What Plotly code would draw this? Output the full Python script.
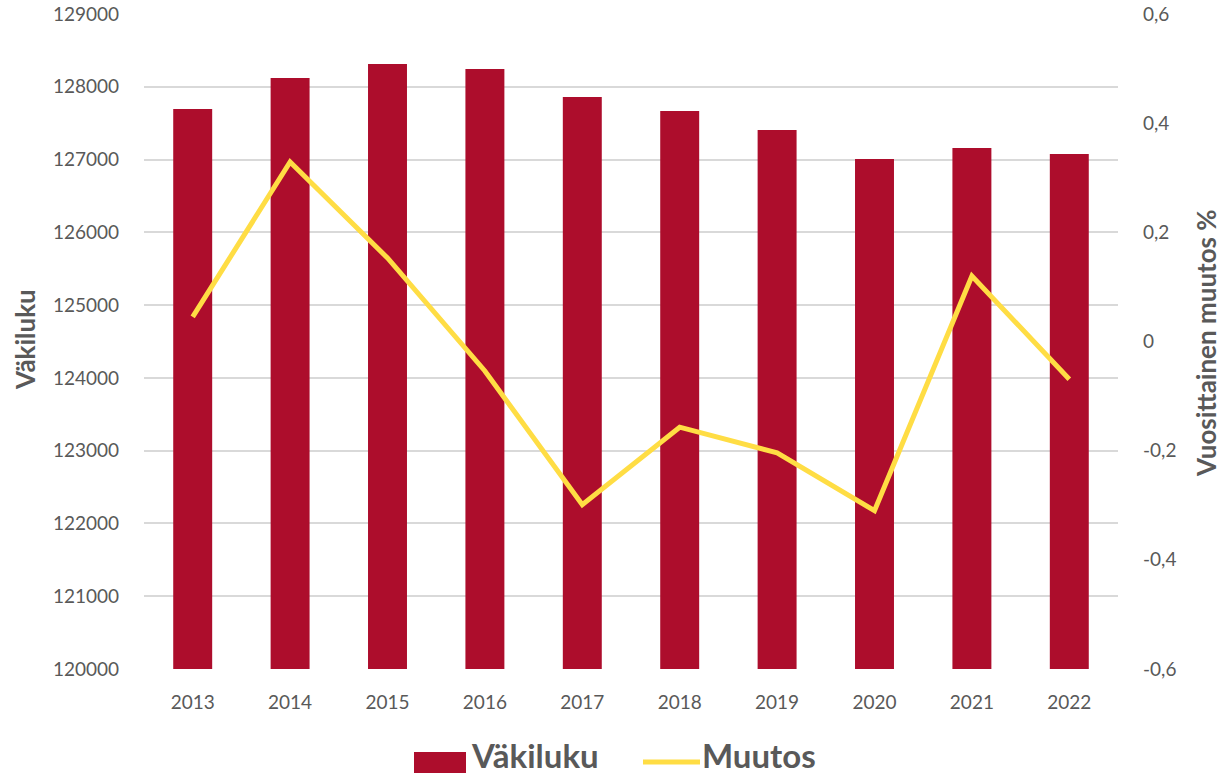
import plotly.graph_objects as go

years = ["2013", "2014", "2015", "2016", "2017", "2018", "2019", "2020", "2021", "2022"]
vakiluku = [127695, 128121, 128313, 128245, 127860, 127668, 127407, 127008, 127159, 127077]
muutos = [0.045, 0.329, 0.153, -0.054, -0.299, -0.157, -0.204, -0.310, 0.120, -0.069]

left_ticks = [120000, 121000, 122000, 123000, 124000, 125000, 126000, 127000, 128000, 129000]
left_labels = [str(v) for v in left_ticks]
right_ticks = [-0.6, -0.4, -0.2, 0, 0.2, 0.4, 0.6]
right_labels = ["-0,6", "-0,4", "-0,2", "0", "0,2", "0,4", "0,6"]

FONT = "Lato"
GREY = "#595959"
RED = "#AD0D2C"
YELLOW = "#FFDD44"

W, H = 1221, 777
L, R, T, B = 144, 103, 14, 108
PW, PH = W - L - R, H - T - B


def px_x(px):
    return (px - L) / PW


def px_y(py):
    return (H - B - py) / PH


fig = go.Figure()
fig.add_trace(go.Bar(
    x=years, y=vakiluku, name="Väkiluku",
    marker=dict(color=RED, line=dict(width=0)),
    width=0.4, showlegend=False,
))
fig.add_trace(go.Scatter(
    x=years, y=muutos, name="Muutos", yaxis="y2", mode="lines",
    line=dict(color=YELLOW, width=5), showlegend=False,
))

# Legend (drawn)
shapes = [
    dict(type="rect", xref="paper", yref="paper",
         x0=px_x(414), x1=px_x(466), y0=px_y(773), y1=px_y(752),
         fillcolor=RED, line=dict(width=0)),
    dict(type="line", xref="paper", yref="paper",
         x0=px_x(643), x1=px_x(700), y0=px_y(762), y1=px_y(762),
         line=dict(color=YELLOW, width=5)),
]
annotations = [
    dict(text="<b>Väkiluku</b>", xref="paper", yref="paper", x=px_x(470), y=px_y(776),
         xanchor="left", yanchor="bottom", showarrow=False, borderpad=0,
         font=dict(size=33, color=GREY, family=FONT)),
    dict(text="<b>Muutos</b>", xref="paper", yref="paper", x=px_x(701), y=px_y(776),
         xanchor="left", yanchor="bottom", showarrow=False, borderpad=0,
         font=dict(size=33, color=GREY, family=FONT)),
    dict(text="<b>Väkiluku</b>", xref="paper", yref="paper", x=px_x(25), y=px_y(340),
         xanchor="center", yanchor="middle", showarrow=False, textangle=-90,
         font=dict(size=26, color=GREY, family=FONT)),
    dict(text="<b>Vuosittainen muutos %</b>", xref="paper", yref="paper", x=px_x(1206), y=px_y(343),
         xanchor="center", yanchor="middle", showarrow=False, textangle=-90,
         font=dict(size=26, color=GREY, family=FONT)),
]

fig.update_layout(
    width=W, height=H,
    margin=dict(l=L, r=R, t=T, b=B, autoexpand=False),
    paper_bgcolor="white", plot_bgcolor="white",
    font=dict(family=FONT, color=GREY, size=19),
    showlegend=False,
    shapes=shapes, annotations=annotations,
    xaxis=dict(showgrid=False, showline=False, ticks="", automargin=False,
               tickfont=dict(size=19, color=GREY), ticklabelstandoff=20),
    yaxis=dict(range=[120000, 129000], tickvals=left_ticks, ticktext=left_labels,
               showgrid=True, gridcolor="#D9D9D9", gridwidth=2, zeroline=False,
               automargin=False, tickfont=dict(size=19, color=GREY), ticklabelstandoff=24),
    yaxis2=dict(range=[-0.6, 0.6], tickvals=right_ticks, ticktext=right_labels,
                overlaying="y", side="right", showgrid=False, zeroline=False,
                automargin=False, tickfont=dict(size=19, color=GREY), ticklabelstandoff=24),
)

fig.write_html("out.html", config={"displayModeBar": False},
               post_script="document.body.style.margin='0';")
